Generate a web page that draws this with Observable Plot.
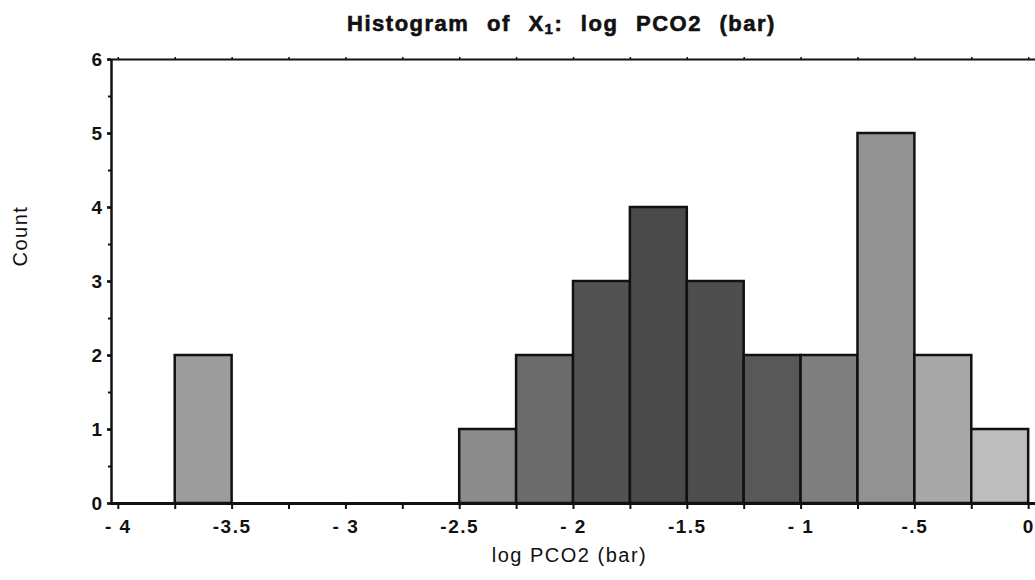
<!DOCTYPE html>
<html>
<head>
<meta charset="utf-8">
<script src="https://cdn.jsdelivr.net/npm/d3@7"></script>
<script src="https://cdn.jsdelivr.net/npm/@observablehq/plot@0.6"></script>
<style>
  html, body { margin: 0; padding: 0; background: #fff; }
  #title { height: 35px; width: 1035px; font-family: "Liberation Sans", Arial, sans-serif; font-weight: 900; font-size: 22px; letter-spacing: 1.5px; word-spacing: 10px; text-align: center; padding-left: 88px; box-sizing: border-box; line-height: 47px; color: #111; -webkit-text-stroke: 0.6px #111; white-space: nowrap; }
  #title sub { font-size: 15px; vertical-align: -3px; }
  #chart svg text { letter-spacing: 1.5px; }
</style>
</head>
<body>
<div id="title">Histogram of X<sub>1</sub>: log PCO2 (bar)</div>
<div id="chart"></div>
<script>
// Data: histogram bins of log PCO2 (bar)
const binStart = [-3.75, -2.5, -2.25, -2.0, -1.75, -1.5, -1.25, -1.0, -0.75, -0.5, -0.25];
const binEnd   = [-3.5, -2.25, -2.0, -1.75, -1.5, -1.25, -1.0, -0.75, -0.5, -0.25, 0.0];
const counts   = [2, 1, 2, 3, 4, 3, 2, 2, 5, 2, 1];
const xTicks = [-4, -3.5, -3, -2.5, -2, -1.5, -1, -0.5, 0];
const xTickLabels = ["- 4", "-3.5", "- 3", "-2.5", "- 2", "-1.5", "- 1", "-.5", "0"];
const yTicks = [0, 1, 2, 3, 4, 5, 6];

const bins = binStart.map((s, i) => ({x1: s, x2: binEnd[i], count: counts[i], i}));

// style: halftone grey per bar (darker in the middle bins)
const shades = ["#9c9c9c", "#8c8c8c", "#6c6c6c", "#525252", "#4a4a4a", "#4e4e4e", "#585858", "#7e7e7e", "#929292", "#a8a8a8", "#bdbdbd"];

const minorX = d3.range(-16, 1).map(k => k * 0.25);
const minorY = d3.range(0, 13).map(k => k * 0.5);
const labelOf = new Map(xTicks.map((t, i) => [t, xTickLabels[i]]));
const blank = () => "";

const chart = Plot.plot({
  width: 1035,
  height: 545,
  marginTop: 24,
  marginBottom: 77,
  marginLeft: 111,
  marginRight: 0,
  style: {fontFamily: "'Liberation Sans', Arial, sans-serif", fontSize: "18px", color: "#111", background: "#fff"},
  x: {domain: [-4.03, 0.03]},
  y: {domain: [0, 6]},
  marks: [
    Plot.rectY(bins, {x1: "x1", x2: "x2", y: "count", fill: d => shades[d.i], stroke: "#111", strokeWidth: 2.5}),
    Plot.ruleY([0], {stroke: "#111", strokeWidth: 3}),
    Plot.ruleY([6], {stroke: "#111", strokeWidth: 2}),
    Plot.ruleX([-4.03], {stroke: "#111", strokeWidth: 2.5}),
    // bottom axis: minor ticks every 0.25, labels at 0.5
    Plot.axisX({anchor: "bottom", ticks: minorX, tickSize: 6, tickFormat: blank, label: null, strokeWidth: 2}),
    Plot.axisX({anchor: "bottom", ticks: xTicks, tickSize: 0, tickPadding: 16, tickFormat: d => labelOf.get(d), label: null, fontWeight: "bold", fontSize: 19}),
    // top ticks
    Plot.axisX({anchor: "top", ticks: minorX, tickSize: 3, tickFormat: blank, label: null, strokeWidth: 1.5}),
    // y axis
    Plot.axisY({ticks: minorY, tickSize: 3, tickFormat: blank, label: null, strokeWidth: 2}),
    Plot.axisY({ticks: yTicks, tickSize: 4, tickPadding: 4, tickFormat: d => String(d), label: null, fontWeight: "bold", fontSize: 19, strokeWidth: 2.5}),
    Plot.text(["log PCO2 (bar)"], {frameAnchor: "bottom", dy: 58, dx: -4, fontSize: 20, fill: "#111"}),
    Plot.text(["Count"], {frameAnchor: "left", dx: -91, dy: -15, rotate: -90, fontSize: 20, fill: "#111"})
  ]
});
document.getElementById("chart").appendChild(chart);
</script>
</body>
</html>
